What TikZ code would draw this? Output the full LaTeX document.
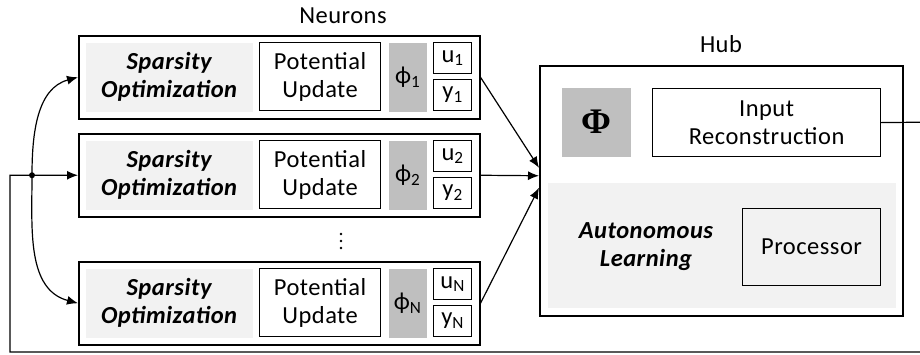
\documentclass[tikz,border=0pt]{standalone}
\usepackage{fontspec}
\setmainfont{Carlito}[LetterSpace=2]
\newfontfamily\phifont{Liberation Serif}
\usepackage{tikz}
\usetikzlibrary{arrows.meta}
\definecolor{softgray}{HTML}{F2F2F2}
\definecolor{midgray}{HTML}{BFBFBF}
\newcommand{\bodyfont}{\fontsize{24.5}{28}\selectfont}
\tikzset{
  frame/.style={draw,line width=1.5pt,anchor=north west,inner sep=0pt},
  algo/.style={fill=softgray,font=\bodyfont\bfseries\itshape,align=center,anchor=north west,inner sep=0pt},
  unit/.style={draw,line width=1.2pt,align=center,anchor=north west,inner sep=0pt},
  phibox/.style={fill=midgray,anchor=north west,inner sep=0pt},
  title/.style={inner sep=0pt}
}

\begin{document}
\begin{tikzpicture}[x=1pt,y=-1pt,->,>={Latex[length=11pt,width=9pt]},line width=1.2pt,
        font=\bodyfont]
  \useasboundingbox (0,0) rectangle (920,354);
  \clip (0,0) rectangle (920,354);

  % neurons
  \node[title] (neurons) at (343,16) {Neurons};
  \foreach \n/\yy/\s in {1/35/1, 2/133/2, 3/261/N}{
    \node[frame,minimum width=401pt,minimum height=83pt] (n\n) at (78,\yy) {};
    \node[algo,minimum width=167pt,minimum height=69pt] (opt\n) at (85,\yy+7) {Sparsity\\Optimization};
    \node[unit,minimum width=121pt,minimum height=68pt] (pot\n) at (259,\yy+7) {Potential\\Update};
    \node[phibox,minimum width=38pt,minimum height=69pt] (phi\n) at (388,\yy+7) {ϕ\textsubscript{\s}};
    \node[unit,minimum width=38pt,minimum height=31pt] (u\n) at (433,\yy+7) {u\textsubscript{\s}};
    \node[unit,minimum width=38pt,minimum height=31pt] (y\n) at (433,\yy+44) {y\textsubscript{\s}};
  }
  \foreach \d in {-7,0,7}
    \fill (341,241+\d) circle (1.4);

  % hub
  \node[title] (hubtitle) at (721,44) {Hub};
  \node[frame,minimum width=363pt,minimum height=250pt] (hub) at (539,65) {};
  \node[algo,minimum width=348pt,minimum height=125pt] (learn) at (547,182) {};
  \node[font=\bodyfont\bfseries\itshape,align=center] (auto) at (646,247) {Autonomous\\Learning};
  \node[phibox,minimum width=69pt,minimum height=69pt,font=\fontsize{36}{36}\phifont\bfseries] (bigphi) at (561,87) {Φ};
  \node[unit,minimum width=228pt,minimum height=68pt] (recon) at (652,88) {Input\\Reconstruction};
  \node[unit,minimum width=138pt,minimum height=77pt] (proc) at (742,208) {Processor};

  % connections
  \draw (n1.east) -- ([yshift=23pt]hub.west);
  \draw (n2.east) -- ([yshift=15pt]hub.west);
  \draw (n3.east) -- ([yshift=3pt]hub.west);
  \coordinate (split) at ([xshift=-46pt]n2.west);
  \draw (recon.east) -- (940,122) |- (10,352) |- (n2.west);
  \fill (split) circle (3);
  \draw (split) to[out=90,in=195] (n1.west);
  \draw (split) to[out=-90,in=165] (n3.west);
\end{tikzpicture}
\end{document}
